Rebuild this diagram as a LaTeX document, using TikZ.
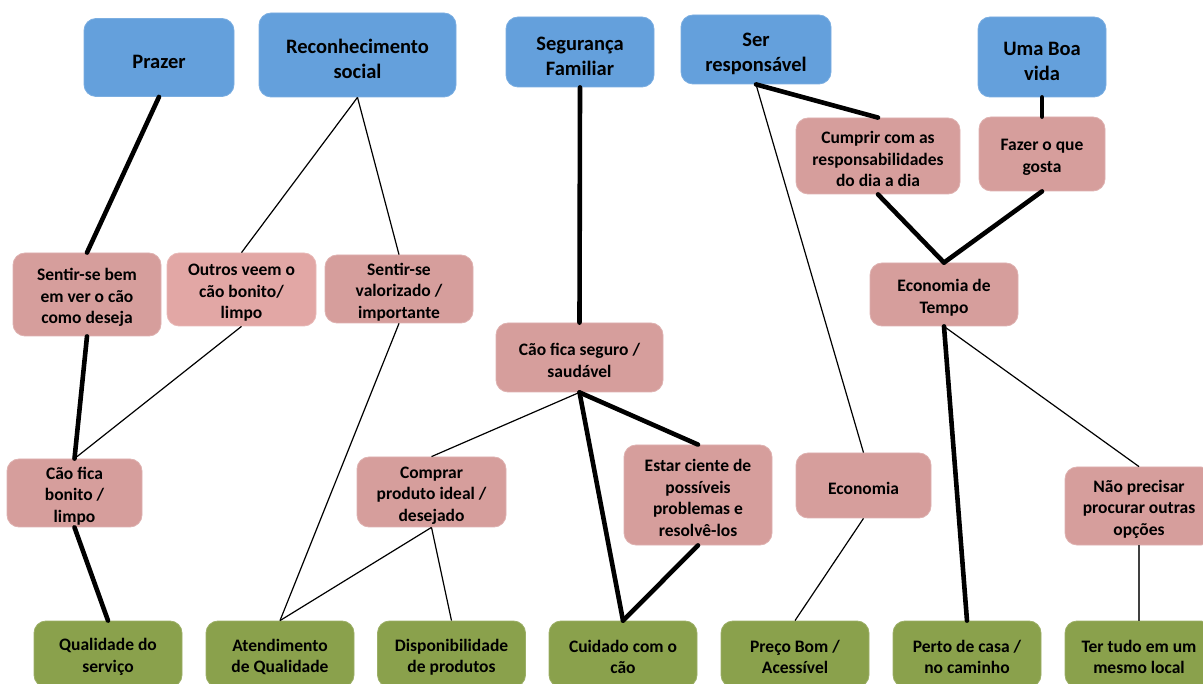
\documentclass[tikz,border=0pt]{standalone}
\usepackage{fontspec}
\setmainfont{Carlito}
\definecolor{hblue}{RGB}{100,160,220}
\definecolor{hpink}{RGB}{214,158,156}
\definecolor{lpink}{RGB}{226,167,165}
\definecolor{hgreen}{RGB}{138,161,76}
\newcommand\mystrut{\rule{0pt}{1.05em}}
\begin{document}
\begin{tikzpicture}[x=1pt,y=-1pt,
  box/.style={rounded corners=12pt, align=center, inner sep=0pt, text=black},
  head/.style={box, fill=hblue, draw=hblue!85!white, line width=0.8pt,
    font=\fontsize{20.5}{25}\selectfont\bfseries},
  mid/.style={box, fill=hpink, draw=hpink!80!white, line width=0.8pt,
    font=\fontsize{17.5}{21.6}\selectfont\bfseries},
  bot/.style={box, fill=hgreen, draw=hgreen!85!white, line width=0.8pt,
    minimum width=148, minimum height=66,
    font=\fontsize{17.5}{21.6}\selectfont\bfseries},
  thick link/.style={line width=4.6pt, line cap=round},
  thin link/.style={line width=1.2pt}]
\useasboundingbox (0,0) rectangle (1203,684);

% top row
\node[head, minimum width=150, minimum height=78] (praz) at (159,57.5) {\mystrut Prazer};
\node[head, minimum width=197, minimum height=84] (recon) at (357.5,55) {\mystrut Reconhecimento\\social};
\node[head, minimum width=148, minimum height=70] (seg) at (580,52) {\mystrut Segurança\\Familiar};
\node[head, minimum width=150, minimum height=69] (ser) at (756,49.5) {\mystrut Ser\\responsável};
\node[head, minimum width=128, minimum height=80] (boa) at (1042,57) {\mystrut Uma Boa\\vida};

% middle nodes
\node[mid, minimum width=164, minimum height=76] (cump) at (878,156) {\mystrut Cumprir com as\\responsabilidades\\do dia a dia};
\node[mid, minimum width=126, minimum height=74] (fazer) at (1042,154) {\mystrut Fazer o que\\gosta};
\node[mid, minimum width=148, minimum height=83] (sbem) at (87,294.5) {\mystrut Sentir-se bem\\em ver o cão\\como deseja};
\node[mid, fill=lpink, draw=lpink!80!white, minimum width=149, minimum height=73] (outros) at (241.5,289.5) {\mystrut Outros veem o\\cão bonito/\\limpo};
\node[mid, minimum width=148, minimum height=68] (valor) at (399,289) {\mystrut Sentir-se\\valorizado /\\importante};
\node[mid, minimum width=167, minimum height=69] (seguro) at (579.5,357.5) {\mystrut Cão fica seguro /\\saudável};
\node[mid, minimum width=148, minimum height=63] (etempo) at (944,294.5) {\mystrut Economia de\\Tempo};
\node[mid, minimum width=135, minimum height=68] (bonito) at (74.5,493) {\mystrut Cão fica\\bonito /\\limpo};
\node[mid, minimum width=149, minimum height=70] (comprar) at (431.5,492) {\mystrut Comprar\\produto ideal /\\desejado};
\node[mid, minimum width=148, minimum height=100] (ciente) at (698,495) {\mystrut Estar ciente de\\possíveis\\problemas e\\resolvê-los};
\node[mid, minimum width=135, minimum height=65] (econ) at (863.5,485.5) {\mystrut Economia};
\node[mid, minimum width=148, minimum height=78] (naop) at (1139,506) {\mystrut Não precisar\\procurar outras\\opções};

% bottom row
\node[bot] (qual) at (108,654) {\mystrut Qualidade do\\serviço};
\node[bot] (atend) at (280,654) {\mystrut Atendimento\\de Qualidade};
\node[bot] (disp) at (451.5,654) {\mystrut Disponibilidade\\de produtos};
\node[bot] (cuid) at (623,654) {\mystrut Cuidado com o\\cão};
\node[bot] (preco) at (795,654) {\mystrut Preço Bom /\\Acessível};
\node[bot] (perto) at (967,654) {\mystrut Perto de casa /\\no caminho};
\node[bot] (tudo) at (1139,654) {\mystrut Ter tudo em um\\mesmo local};

% links
\draw[thick link] (praz.south) -- (sbem.north);
\draw[thick link] (sbem.south) -- (bonito.north);
\draw[thick link] (bonito.south) -- (qual.north);
\draw[thin link] (recon.south) -- (outros.north);
\draw[thin link] (recon.south) -- (valor.north);
\draw[thin link] (outros.south) -- (bonito.north);
\draw[thin link] (valor.south) -- (atend.north);
\draw[thick link] (seg.south) -- (seguro.north);
\draw[thin link] (seguro.south) -- (comprar.north);
\draw[thick link] (seguro.south) -- (ciente.north);
\draw[thick link] (seguro.south) -- (cuid.north);
\draw[thick link] (ciente.south) -- (cuid.north);
\draw[thin link] (comprar.south) -- (atend.north);
\draw[thin link] (comprar.south) -- (disp.north);
\draw[thick link] (ser.south) -- (cump.north);
\draw[thin link] (ser.south) -- (econ.north);
\draw[thick link] (boa.south) -- (fazer.north);
\draw[thick link] (cump.south) -- (etempo.north);
\draw[thick link] (fazer.south) -- (etempo.north);
\draw[thick link] (etempo.south) -- (perto.north);
\draw[thin link] (etempo.south) -- (naop.north);
\draw[thin link] (econ.south) -- (preco.north);
\draw[thin link, black!75] (naop.south) -- (tudo.north);
\end{tikzpicture}
\end{document}
